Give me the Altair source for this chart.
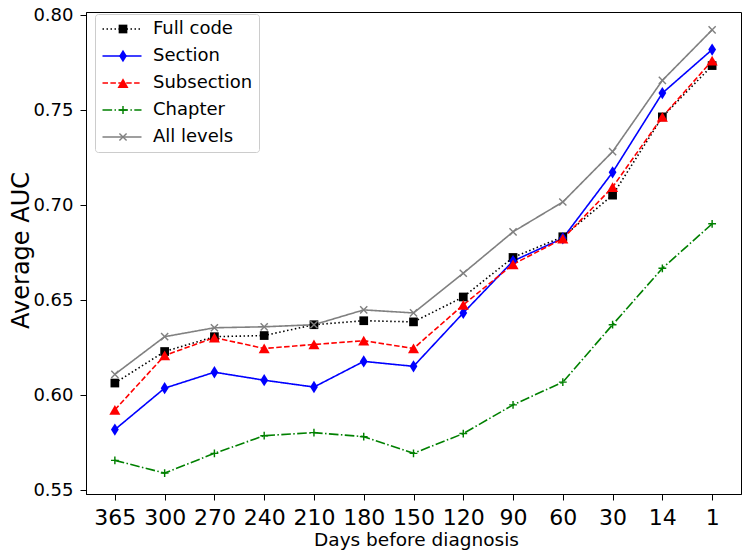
import altair as alt
import pandas as pd

# ---- data ----
days = ["365", "300", "270", "240", "210", "180", "150", "120", "90", "60", "30", "14", "1"]
series_names = ["Full code", "Section", "Subsection", "Chapter", "All levels"]

full_code = [0.6063, 0.6229, 0.6307, 0.6313, 0.6370, 0.6391, 0.6385, 0.6516, 0.6724, 0.6833, 0.7052, 0.7464, 0.7734]
section = [0.5818, 0.6036, 0.6120, 0.6078, 0.6042, 0.6177, 0.6151, 0.6432, 0.6705, 0.6825, 0.7172, 0.7589, 0.7818]
subsection = [0.5922, 0.6208, 0.6302, 0.6245, 0.6266, 0.6286, 0.6245, 0.6474, 0.6688, 0.6823, 0.7094, 0.7464, 0.7760]
chapter = [0.5656, 0.5589, 0.5693, 0.5786, 0.5802, 0.5781, 0.5693, 0.5797, 0.5948, 0.6068, 0.6370, 0.6667, 0.6901]
all_levels = [0.6109, 0.6307, 0.6354, 0.6359, 0.6370, 0.6448, 0.6432, 0.6641, 0.6859, 0.7016, 0.7281, 0.7656, 0.7922]

y_ticks = [0.55, 0.60, 0.65, 0.70, 0.75, 0.80]

# ---- styles ----
line_colors = ["#000000", "#0000ff", "#ff0000", "#008000", "#808080"]
line_dashes = [[1.5, 2.5], [1, 0], [5.5, 2.4], [9.6, 2.4, 1.5, 2.4], [1, 0]]
marker_paths = [
    "M-0.67,-0.67H0.67V0.67H-0.67Z",
    "M0,-0.95L0.6,0L0,0.95L-0.6,0Z",
    "M0,-0.75L0.85,0.75H-0.85Z",
    "M-0.6,-0.11H0.6V0.11H-0.6Z M-0.11,-0.6H0.11V0.6H-0.11Z",
    "M-0.472,-0.628L0.628,0.472L0.472,0.628L-0.628,-0.472Z "
    "M-0.472,0.628L-0.628,0.472L0.472,-0.628L0.628,-0.472Z",
]
marker_names = [n + " " for n in series_names]

rows = []
for name, vals in zip(series_names, [full_code, section, subsection, chapter, all_levels]):
    for d, v in zip(days, vals):
        rows.append({"day": d, "series": name, "marker": name + " ", "auc": v})
df = pd.DataFrame(rows)

FONT = "DejaVu Sans"

x_enc = alt.X(
    "day:O",
    sort=days,
    scale=alt.Scale(type="point", padding=0.58),
    axis=alt.Axis(
        title="Days before diagnosis",
        labelAngle=0,
        labelFontSize=22,
        titleFontSize=18.5,
        tickSize=6,
        labelPadding=7,
        titleX=330,
        titleY=45,
        titleBaseline="middle",
    ),
)
y_enc = alt.Y(
    "auc:Q",
    scale=alt.Scale(domain=[0.5479, 0.8016], nice=False, zero=False),
    axis=alt.Axis(
        title="Average AUC",
        values=y_ticks,
        format=".2f",
        labelFontSize=18,
        titleFontSize=24,
        tickSize=6,
        labelPadding=7,
        labelFlush=False,
        titleX=-58,
        titleY=238,
        titleAngle=270,
        titleBaseline="alphabetic",
    ),
)

line_legend = alt.Legend(
    title=None,
    orient="none",
    legendX=9,
    legendY=2,
    symbolType="M-2.6,0H2.6",
    symbolSize=225,
    symbolStrokeWidth=1.5,
    symbolOffset=12,
    labelOffset=22,
    labelFontSize=18,
    labelFont=FONT,
    labelColor="black",
    padding=6,
    rowPadding=9,
    strokeColor="#cccccc",
    cornerRadius=3,
)
marker_legend = alt.Legend(
    title=None,
    orient="none",
    legendX=9,
    legendY=2,
    symbolSize=169,
    symbolOffset=13,
    symbolStrokeWidth=0,
    labelOffset=22,
    labelFontSize=18,
    labelFont=FONT,
    labelOpacity=0,
    padding=6,
    rowPadding=9,
)

lines = alt.Chart(df).mark_line(strokeWidth=1.6).encode(
    x=x_enc,
    y=y_enc,
    stroke=alt.Stroke(
        "series:N",
        scale=alt.Scale(domain=series_names, range=line_colors),
        legend=line_legend,
    ),
    strokeDash=alt.StrokeDash(
        "series:N",
        scale=alt.Scale(domain=series_names, range=line_dashes),
        legend=line_legend,
    ),
)

points = alt.Chart(df).mark_point(filled=True, size=169, opacity=1, strokeWidth=0).encode(
    x=x_enc,
    y=y_enc,
    color=alt.Color(
        "marker:N",
        scale=alt.Scale(domain=marker_names, range=line_colors),
        legend=marker_legend,
    ),
    shape=alt.Shape(
        "marker:N",
        scale=alt.Scale(domain=marker_names, range=marker_paths),
        legend=marker_legend,
    ),
)

chart = (
    alt.layer(lines, points)
    .properties(
        width=655,
        height=482,
        autosize=alt.AutoSizeParams(type="none"),
        padding={"left": 78, "top": 4, "right": 1, "bottom": 56},
    )
    .configure_view(stroke="black", strokeWidth=1)
    .configure_axis(
        domainColor="black",
        domainWidth=1,
        tickColor="black",
        tickWidth=1,
        labelColor="black",
        titleColor="black",
        labelFont=FONT,
        titleFont=FONT,
        titleFontWeight="normal",
        grid=False,
    )
)

chart.save("out.html", embed_options={"renderer": "svg", "actions": False})
